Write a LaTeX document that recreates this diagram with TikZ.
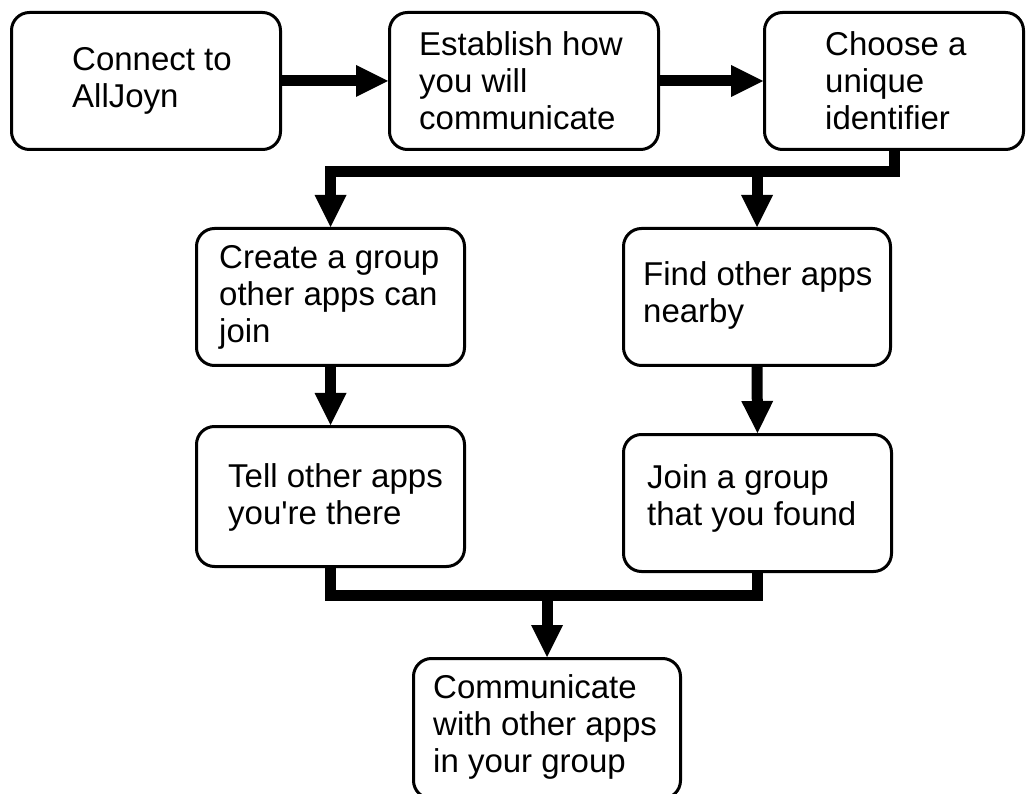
\documentclass[tikz,border=0pt]{standalone}
\usepackage{fontspec}
\newfontfamily\boxfont{Liberation Sans}
\usetikzlibrary{arrows.meta}
\begin{document}
\begin{tikzpicture}[x=1pt,y=-1pt,
  box/.style={draw, line width=3pt, rounded corners=18pt, inner sep=0pt},
  txt/.style={anchor=north west, align=left, inner sep=0pt,
    font=\boxfont\fontsize{33}{37}\selectfont},
  flow/.style={line width=11pt, line join=miter},
  head/.style={-{Triangle[length=32pt,width=32pt,line width=0pt]}}
]
\useasboundingbox (0,0) rectangle (1026,794);
\clip (0,0) rectangle (1026,794);

% step boxes
\node[box, minimum width=269pt, minimum height=137pt] (b1) at (146,81) {};
\node[box, minimum width=269pt, minimum height=137pt] (b2) at (524,81) {};
\node[box, minimum width=259pt, minimum height=137pt] (b3) at (894,81) {};
\node[box, minimum width=268pt, minimum height=137pt] (b4) at (330.5,297) {};
\node[box, minimum width=267pt, minimum height=137pt] (b5) at (757,297) {};
\node[box, minimum width=268pt, minimum height=140pt] (b6) at (330.5,496.5) {};
\node[box, minimum width=268pt, minimum height=137pt] (b7) at (757.5,503) {};
\node[box, minimum width=267pt, minimum height=140pt] (b8) at (547,728.5) {};

% step texts
\node[txt] (t1) at (72,44)   {\strut Connect to\\AllJoyn};
\node[txt] (t2) at (419,29)  {\strut Establish how\\you will\\communicate};
\node[txt] (t3) at (825,29)  {\strut Choose a\\unique\\identifier};
\node[txt] (t4) at (219,242) {\strut Create a group\\other apps can\\join};
\node[txt] (t5) at (643,259) {\strut Find other apps\\nearby};
\node[txt] (t6) at (228,461) {\strut Tell other apps\\you\textquotesingle re there};
\node[txt] (t7) at (647,462) {\strut Join a group\\that you found};
\node[txt] (t8) at (433,672) {\strut Communicate\\with other apps\\in your group};

% bus lines
\coordinate (bus1) at (0,172);
\coordinate (bus2) at (0,595);

% connectors
\draw[flow,head] (b1.east) -- (b2.west);
\draw[flow,head] (b2.east) -- (b3.west);
\draw[flow,head] (b3.south) -- (b3.south |- bus1) -- (b4.north |- bus1) -- (b4.north);
\draw[flow,head] (b5.north |- bus1) -- (b5.north);
\draw[flow,head] (b4.south) -- (b6.north);
\draw[flow,head] (b5.south) -- (b7.north);
\draw[flow] (b6.south) |- (b7.south |- bus2) -- (b7.south);
\draw[flow,head] (b8.north |- bus2) -- (b8.north);
\end{tikzpicture}
\end{document}
